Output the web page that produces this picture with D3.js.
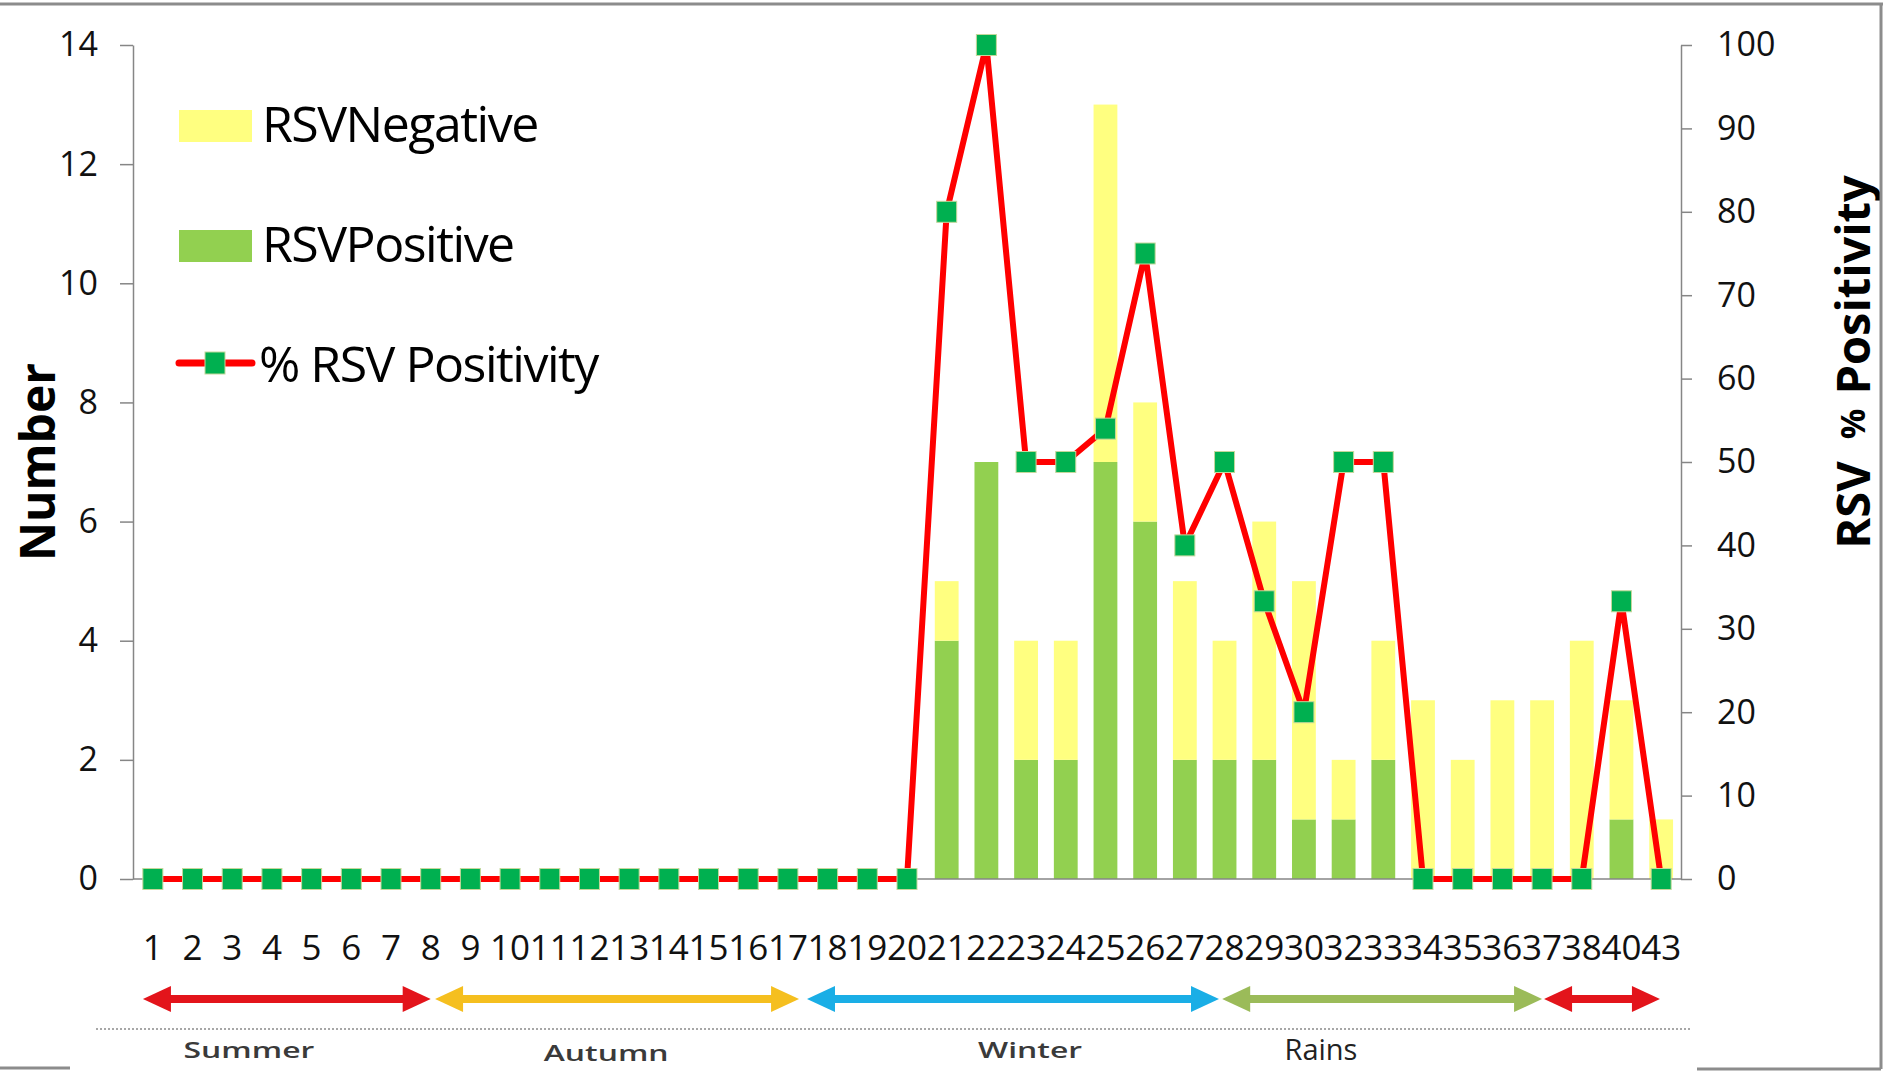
<!DOCTYPE html>
<html>
<head>
<meta charset="utf-8">
<title>RSV by week</title>
<script src="https://d3js.org/d3.v7.min.js"></script>
<style>
  body { margin: 0; background: #fff; }
  svg { display: block; font-family: "Open Sans", sans-serif; }
  .axis path, .axis line { stroke: #868686; stroke-width: 1.5; }
  .axis text { font-family: "Open Sans", sans-serif; font-size: 34px; fill: #111; }
</style>
</head>
<body>
<script>
// week numbers on the x axis (31, 39, 41, 42 are absent in the source)
const weeks = ["1","2","3","4","5","6","7","8","9","10","11","12","13","14","15","16","17","18","19","20",
               "21","22","23","24","25","26","27","28","29","30","32","33","34","35","36","37","38","40","43"];
const rsvPositive = [0,0,0,0,0,0,0,0,0,0,0,0,0,0,0,0,0,0,0,0,
                     4,7,2,2,7,6,2,2,2,1,1,2,0,0,0,0,0,1,0];
const rsvNegative = [0,0,0,0,0,0,0,0,0,0,0,0,0,0,0,0,0,0,0,0,
                     1,0,2,2,6,2,3,2,4,4,1,2,3,2,3,3,4,2,1];
const pctPositive = [0,0,0,0,0,0,0,0,0,0,0,0,0,0,0,0,0,0,0,0,
                     80,100,50,50,54,75,40,50,33.3,20,50,50,0,0,0,0,0,33.3,0];
const leftTicks = [0,2,4,6,8,10,12,14];
const rightTicks = [0,10,20,30,40,50,60,70,80,90,100];

// seasons: arrow start/end and label position as (fractional) week index
const seasonNames = ["Summer", "Autumn", "Winter", "Rains", ""];
const seasonFrom  = [-0.25, 7.11, 16.48, 26.94, 35.05];
const seasonTo    = [7.0, 16.28, 26.86, 35.0, 37.97];
const seasonLabel = [2.42, 11.42, 22.1, 29.43, null];
const seasonColors = ["#e3141b", "#f5bf1f", "#1aaee6", "#9bbb59", "#e3141b"];

const W = 1883, H = 1071;
const svg = d3.select("body").append("svg").attr("width", W).attr("height", H);

const x = d3.scaleBand().domain(weeks).range([133, 1681]).paddingInner(0.4).paddingOuter(0.2);
const yL = d3.scaleLinear().domain([0, 14]).range([879, 45]);
const yR = d3.scaleLinear().domain([0, 100]).range([879, 45]);
const cx = w => x(w) + x.bandwidth() / 2;
const idxX = i => cx(weeks[0]) + i * x.step();

const rows = weeks.map((w, i) => ({week: w, positive: rsvPositive[i], negative: rsvNegative[i], pct: pctPositive[i]}));

// stacked bars
const stack = d3.stack().keys(["positive", "negative"])(rows);
const barColor = {positive: "#92d050", negative: "#ffff80"};
svg.append("g").selectAll("g").data(stack).join("g")
    .attr("fill", d => barColor[d.key])
  .selectAll("rect").data(d => d).join("rect")
    .attr("x", d => x(d.data.week))
    .attr("width", x.bandwidth())
    .attr("y", d => yL(d[1]))
    .attr("height", d => yL(d[0]) - yL(d[1]));

// axes
svg.append("g").attr("class", "axis").attr("transform", "translate(133,0)")
    .call(d3.axisLeft(yL).tickValues(leftTicks).tickSize(13).tickSizeOuter(0).tickPadding(22));
svg.append("g").attr("class", "axis").attr("transform", "translate(1681,0)")
    .call(d3.axisRight(yR).tickValues(rightTicks).tickSize(11).tickSizeOuter(0).tickPadding(25));
svg.append("line").attr("x1", 133).attr("x2", 1681).attr("y1", yL(0)).attr("y2", yL(0))
    .attr("stroke", "#868686").attr("stroke-width", 1.5);

// x labels
svg.append("g").selectAll("text").data(weeks).join("text")
    .attr("x", d => cx(d)).attr("y", 960)
    .attr("text-anchor", "middle")
    .style("font-size", "35px").attr("fill", "#111")
    .text(d => d);

// % positivity line
const line = d3.line().x(d => cx(d.week)).y(d => yR(d.pct));
svg.append("path").datum(rows).attr("d", line)
    .attr("fill", "none").attr("stroke", "#ff0000").attr("stroke-width", 6).attr("stroke-linejoin", "round");
svg.append("g").selectAll("rect").data(rows).join("rect")
    .attr("x", d => cx(d.week) - 10).attr("y", d => yR(d.pct) - 10.5)
    .attr("width", 20).attr("height", 21)
    .attr("fill", "#00b050").attr("stroke", "#c4d79b").attr("stroke-width", 1);

// axis titles
svg.append("text").attr("transform", "translate(36,462) rotate(-90)")
    .attr("text-anchor", "middle").attr("dominant-baseline", "central")
    .style("font-size", "48px").style("font-weight", "bold").text("Number");
const rt = svg.append("text").attr("transform", "translate(1852,362) rotate(-90)")
    .attr("text-anchor", "middle").attr("dominant-baseline", "central")
    .style("font-size", "47px").style("font-weight", "bold");
rt.append("tspan").text("RSV");
rt.append("tspan").attr("dx", 22).style("font-size", "34px").text("%");
rt.append("tspan").attr("dx", 14).text("Positivity");

// legend
const lg = svg.append("g").style("font-size", "50px").style("letter-spacing", "-1.5px");
lg.append("rect").attr("x", 179).attr("y", 110).attr("width", 73).attr("height", 32).attr("fill", barColor.negative);
lg.append("text").attr("x", 262).attr("y", 142).text("RSVNegative");
lg.append("rect").attr("x", 179).attr("y", 230).attr("width", 73).attr("height", 32).attr("fill", barColor.positive);
lg.append("text").attr("x", 262).attr("y", 262).text("RSVPositive");
lg.append("line").attr("x1", 179).attr("x2", 252).attr("y1", 363).attr("y2", 363)
    .attr("stroke", "#ff0000").attr("stroke-width", 7).attr("stroke-linecap", "round");
lg.append("rect").attr("x", 205).attr("y", 352).attr("width", 20).attr("height", 22)
    .attr("fill", "#00b050").attr("stroke", "#c4d79b").attr("stroke-width", 1);
lg.append("text").attr("x", 259).attr("y", 382).text("% RSV Positivity");

// season arrows
const ay = 999, head = 28, half = 13, shaft = 8;
seasonNames.forEach((name, i) => {
  const x0 = idxX(seasonFrom[i]), x1 = idxX(seasonTo[i]);
  const g = svg.append("g").attr("fill", seasonColors[i]);
  g.append("rect").attr("x", x0 + head - 2).attr("y", ay - shaft / 2)
      .attr("width", x1 - x0 - 2 * head + 4).attr("height", shaft);
  g.append("path").attr("d", `M${x0},${ay}L${x0 + head},${ay - half}L${x0 + head},${ay + half}Z`);
  g.append("path").attr("d", `M${x1},${ay}L${x1 - head},${ay - half}L${x1 - head},${ay + half}Z`);
  if (seasonLabel[i] !== null) {
    const lx = idxX(seasonLabel[i]);
    if (name === "Rains") {
      svg.append("text").attr("x", lx).attr("y", 1060).attr("text-anchor", "middle")
          .style("font-size", "29px").attr("fill", "#222").text(name);
    } else {
      svg.append("text").attr("transform", `translate(${lx},${name === "Autumn" ? 1061 : 1058}) scale(1.45,1)`)
          .attr("text-anchor", "middle").style("font-size", "22px").style("font-weight", 600)
          .attr("fill", "#3a3a3a").text(name);
    }
  }
});

// dotted separator
svg.append("line").attr("x1", 96).attr("x2", 1692).attr("y1", 1029).attr("y2", 1029)
    .attr("stroke", "#8a8a8a").attr("stroke-width", 1.5).attr("stroke-dasharray", "2,2");

// frame pieces of the cropped figure
const frame = svg.append("g").attr("stroke", "#8c8c8c").attr("stroke-width", 3).attr("fill", "none");
frame.append("line").attr("x1", 0).attr("x2", W).attr("y1", 4).attr("y2", 4);
frame.append("line").attr("x1", 1881).attr("x2", 1881).attr("y1", 4).attr("y2", 1069);
frame.append("line").attr("x1", 1697).attr("x2", 1881).attr("y1", 1069).attr("y2", 1069);
frame.append("line").attr("x1", 0).attr("x2", 70).attr("y1", 1068).attr("y2", 1068);
</script>
</body>
</html>
